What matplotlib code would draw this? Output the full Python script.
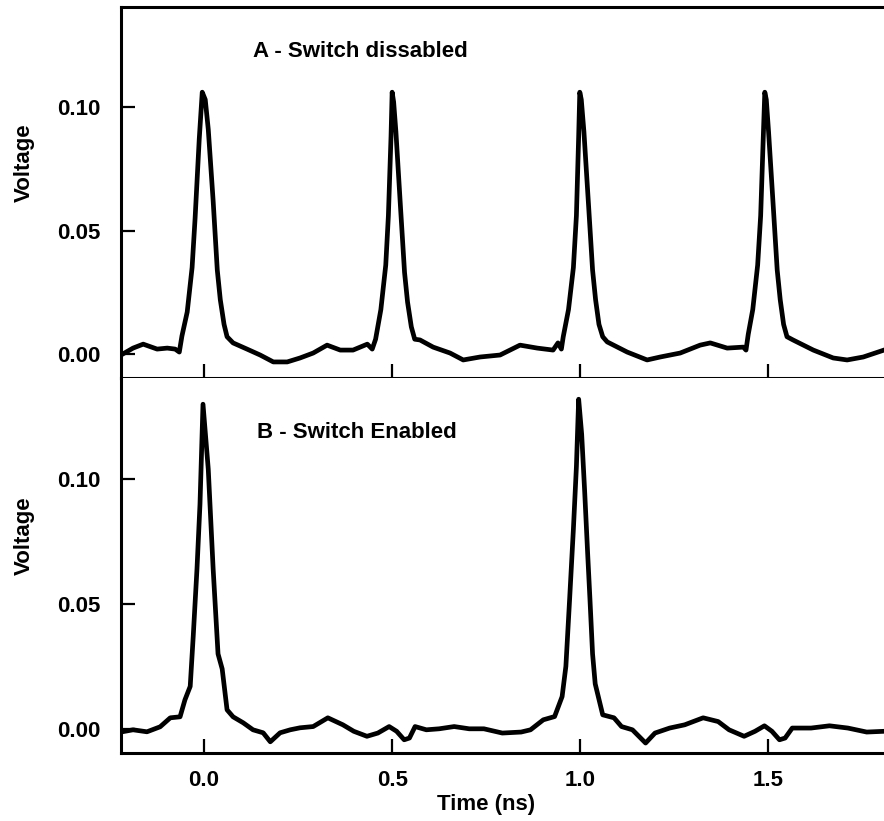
import matplotlib
matplotlib.use("Agg")
import matplotlib.pyplot as plt

# trace A - switch disabled (time in ns, voltage)
time_a = [-0.221, -0.189, -0.162, -0.125, -0.098, -0.077, -0.066, -0.059, -0.045, -0.032,
          -0.024, -0.013, -0.005, 0.003, 0.011, 0.024, 0.035, 0.043, 0.053, 0.061,
          0.077, 0.114, 0.149, 0.184, 0.221, 0.255, 0.290, 0.327, 0.362, 0.396,
          0.434, 0.447, 0.456, 0.470, 0.483, 0.490, 0.497, 0.500, 0.504, 0.510,
          0.522, 0.533, 0.541, 0.551, 0.560, 0.574, 0.609, 0.654, 0.689, 0.734,
          0.787, 0.840, 0.886, 0.928, 0.941, 0.950, 0.955, 0.969, 0.982, 0.990,
          0.996, 0.999, 1.003, 1.010, 1.022, 1.033, 1.041, 1.050, 1.060, 1.072,
          1.125, 1.178, 1.213, 1.266, 1.319, 1.346, 1.391, 1.434, 1.441, 1.447,
          1.459, 1.472, 1.480, 1.487, 1.491, 1.495, 1.501, 1.513, 1.524, 1.532,
          1.541, 1.550, 1.566, 1.620, 1.673, 1.710, 1.753, 1.808]
volt_a = [-0.0004, 0.0024, 0.0040, 0.0020, 0.0024, 0.0020, 0.0008, 0.0073, 0.017, 0.035,
          0.055, 0.087, 0.106, 0.103, 0.091, 0.062, 0.034, 0.022, 0.012, 0.007,
          0.0045, 0.0020, -0.0004, -0.0032, -0.0032, -0.0016, 0.0004, 0.0036, 0.0016, 0.0016,
          0.0040, 0.0020, 0.006, 0.018, 0.036, 0.056, 0.088, 0.106, 0.102, 0.090,
          0.060, 0.033, 0.021, 0.011, 0.006, 0.0057, 0.0028, 0.0004, -0.0024, -0.0012,
          -0.0004, 0.0036, 0.0024, 0.0016, 0.0045, 0.0020, 0.007, 0.018, 0.035, 0.056,
          0.088, 0.106, 0.103, 0.090, 0.061, 0.034, 0.022, 0.012, 0.007, 0.0049,
          0.0008, -0.0024, -0.0012, 0.0004, 0.0036, 0.0045, 0.0024, 0.0028, 0.0016, 0.008,
          0.018, 0.036, 0.056, 0.088, 0.106, 0.103, 0.090, 0.061, 0.034, 0.022,
          0.012, 0.007, 0.0057, 0.0016, -0.0016, -0.0024, -0.0012, 0.0016]

# trace B - switch enabled
time_b = [-0.218, -0.189, -0.152, -0.117, -0.090, -0.064, -0.051, -0.037, -0.029, -0.019,
          -0.011, -0.003, 0.011, 0.024, 0.037, 0.048, 0.061, 0.077, 0.104, 0.130,
          0.157, 0.176, 0.202, 0.229, 0.255, 0.290, 0.329, 0.369, 0.398, 0.433,
          0.462, 0.492, 0.512, 0.532, 0.546, 0.561, 0.591, 0.625, 0.665, 0.705,
          0.744, 0.793, 0.843, 0.868, 0.902, 0.932, 0.952, 0.962, 0.972, 0.982,
          0.990, 0.996, 1.004, 1.012, 1.020, 1.026, 1.033, 1.040, 1.060, 1.090,
          1.110, 1.139, 1.174, 1.199, 1.238, 1.278, 1.327, 1.367, 1.396, 1.436,
          1.465, 1.490, 1.510, 1.530, 1.545, 1.564, 1.614, 1.663, 1.712, 1.762,
          1.808]
volt_b = [-0.0012, -0.0004, -0.0012, 0.0008, 0.0044, 0.0048, 0.0116, 0.017, 0.037, 0.064,
          0.090, 0.130, 0.104, 0.064, 0.030, 0.024, 0.0076, 0.0048, 0.0024, -0.0004,
          -0.0016, -0.0052, -0.0016, -0.0004, 0.0004, 0.0009, 0.0044, 0.0016, -0.0010, -0.0030,
          -0.0017, 0.0009, -0.0010, -0.0044, -0.0037, 0.0009, -0.0004, 0.0000, 0.0009, 0.0000,
          0.0000, -0.0017, -0.0013, -0.0004, 0.0036, 0.0049, 0.0129, 0.025, 0.052, 0.080,
          0.105, 0.132, 0.118, 0.095, 0.070, 0.052, 0.030, 0.018, 0.0056, 0.0044,
          0.0009, -0.0004, -0.0057, -0.0017, 0.0003, 0.0016, 0.0044, 0.0029, -0.0004, -0.0030,
          -0.0010, 0.0012, -0.0010, -0.0044, -0.0037, 0.0003, 0.0003, 0.0012, 0.0003, -0.0013,
          -0.0010]

x_ticks = [0.0, 0.5, 1.0, 1.5]
x_labels = ["0.0", "0.5", "1.0", "1.5"]
y_ticks = [0.00, 0.05, 0.10]
y_labels = ["0.00", "0.05", "0.10"]

plt.rcParams['font.family'] = ['Liberation Sans', 'DejaVu Sans']
plt.rcParams['font.weight'] = 'bold'

fig = plt.figure(figsize=(8.84, 8.21), dpi=100)
ax_a = fig.add_axes([0.1369, 0.5396, 0.8631, 0.4519])
ax_b = fig.add_axes([0.1369, 0.0828, 0.8631, 0.4568])

for ax, t, v in [(ax_a, time_a, volt_a), (ax_b, time_b, volt_b)]:
    ax.plot(t, v, color='black', lw=3.4, solid_joinstyle='round')
    ax.set_xlim(-0.221, 1.808)
    ax.set_ylim(-0.0097, 0.1405)
    ax.set_xticks(x_ticks)
    ax.set_yticks(y_ticks)
    ax.set_yticklabels(y_labels, fontsize=16, fontweight='bold')
    ax.tick_params(axis='both', direction='in', length=10, width=1.6)
    ax.tick_params(axis='y', pad=15)
    ax.tick_params(axis='x', pad=12)
    ax.spines['right'].set_visible(False)
    for s in ['left', 'top', 'bottom']:
        ax.spines[s].set_linewidth(2.2)
    ax.set_ylabel("Voltage", fontsize=16, fontweight='bold')
    ax.yaxis.set_label_coords(-0.113, 0.58)

ax_a.text(0.130, 0.1223, "A - Switch dissabled", fontsize=16, fontweight='bold',
          ha='left', va='center')
ax_b.text(0.141, 0.1188, "B - Switch Enabled", fontsize=16, fontweight='bold',
          ha='left', va='center')

ax_a.set_xticklabels([])
ax_b.spines['top'].set_visible(False)
ax_b.set_xticklabels(x_labels, fontsize=16, fontweight='bold')
ax_b.set_xlabel("Time (ns)", fontsize=16, fontweight='bold')
ax_b.xaxis.set_label_coords(0.478, -0.11)

plt.savefig("out.png", dpi=100)
